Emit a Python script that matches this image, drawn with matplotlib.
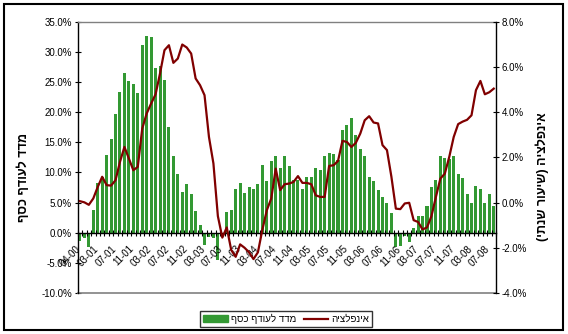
import numpy as np
import matplotlib
matplotlib.use("Agg")
import matplotlib.pyplot as plt
from matplotlib.patches import Rectangle, Patch
from matplotlib.lines import Line2D

plt.rcParams['font.family'] = ['Liberation Sans', 'DejaVu Sans']

# monthly values, first bar = Dec 2000
money_index = [-1.4, -0.9, -2.3, 3.8, 8.3, 9.2, 12.9, 15.6, 19.7, 23.3,
               26.5, 25.2, 24.6, 23.1, 31.2, 32.7, 32.4, 27.3, 27.7, 25.4,
               17.5, 12.8, 9.7, 6.8, 8.0, 6.5, 3.6, 1.2, -2.0, -0.7,
               -0.8, -4.5, 0.0, 3.4, 3.8, 7.2, 8.2, 6.6, 7.6, 7.2,
               8.1, 11.2, 8.6, 11.9, 12.7, 10.7, 12.8, 11.0, 8.7, 8.7,
               7.2, 9.2, 9.2, 10.7, 10.4, 12.8, 13.2, 13.0, 12.0, 17.0,
               17.8, 19.1, 16.2, 13.9, 12.7, 9.3, 8.6, 7.1, 6.0, 4.9,
               3.3, -2.3, -2.2, -0.5, -1.6, 0.7, 2.8, 2.7, 4.5, 7.5,
               8.8, 12.8, 12.4, 12.2, 12.8, 9.7, 9.0, 6.5, 4.9, 7.8,
               7.3, 5.0, 6.5, 4.5]

inflation = [0.06, 0.01, -0.10, 0.18, 0.69, 1.14, 0.77, 0.75, 0.99, 1.8,
             2.46, 1.95, 1.43, 1.58, 3.27, 3.94, 4.38, 4.79, 5.71, 6.74,
             6.96, 6.18, 6.37, 6.99, 6.86, 6.59, 5.49, 5.19, 4.75, 2.9,
             1.73, -0.6, -1.55, -1.1, -2.1, -2.4, -1.85, -2.0, -2.2, -2.5,
             -2.2, -1.2, -0.34, 0.18, 1.5, 0.55, 0.81, 0.84, 0.91, 1.17,
             0.87, 0.87, 0.81, 0.32, 0.25, 0.25, 1.62, 1.65, 1.84, 2.73,
             2.68, 2.46, 2.64, 3.05, 3.64, 3.82, 3.54, 3.50, 2.54, 2.32,
             1.14, -0.27, -0.29, -0.04, -0.01, -0.78, -0.86, -1.19, -1.1, -0.6,
             0.25, 1.06, 1.28, 2.02, 2.9, 3.47, 3.58, 3.66, 3.86, 4.97,
             5.38, 4.79, 4.88, 5.04]

month_labels = ["04-00", "03-01", "07-01", "11-01", "03-02", "07-02", "11-02",
                "03-03", "07-03", "11-03", "03-04", "07-04", "11-04", "03-05",
                "07-05", "11-05", "03-06", "07-06", "11-06", "03-07", "07-07",
                "11-07", "03-08", "07-08"]

bar_name = "מדד לעודף כסף"
line_name = "אינפלציה"
right_title = "אינפלציה (שיעור שנתי)"


def rtl(s):
	# matplotlib has no bidi, so flip Hebrew into visual order
	return s[::-1].replace("(", "\0").replace(")", "(").replace("\0", ")")


n = len(money_index)
x = np.arange(n)

fig = plt.figure(figsize=(5.68, 3.34), dpi=100)
ax = fig.add_axes([0.1368, 0.1228, 0.7364, 0.8122])
ax2 = ax.twinx()

ax.bar(x, money_index, width=0.68, color="#339933")
ax2.plot(x, inflation, color="#800000", lw=1.6)

ax.set_xlim(-0.5, n - 0.5)
ax.set_ylim(-10, 35)
ax2.set_ylim(-4, 8)

ax.set_yticks(np.arange(-10, 36, 5))
ax.set_yticklabels([f"{v:.1f}%" for v in np.arange(-10, 36, 5)], fontsize=7)
ax2.set_yticks(np.arange(-4, 9, 2))
ax2.set_yticklabels([f"{v:.1f}%" for v in np.arange(-4, 9, 2)], fontsize=7)
ax.tick_params(axis="y", direction="inout", length=4, width=0.8, pad=2)
ax2.tick_params(axis="y", direction="inout", length=4, width=0.8, pad=2)

# category axis sits on the zero line
ax.spines["bottom"].set_position(("data", 0))
ax.set_xticks(np.arange(-0.5, n, 1))
ax.set_xticklabels([])
ax.tick_params(axis="x", direction="inout", length=5, width=0.8)
for k, lbl in enumerate(month_labels):
	ax.annotate(lbl, xy=(-1 + 4 * k, 0), xytext=(0, -8), textcoords="offset points",
				rotation=45, ha="right", va="top", rotation_mode="anchor",
				fontsize=7, annotation_clip=False)

for a in (ax, ax2):
	for s in a.spines.values():
		s.set_linewidth(1)
ax.spines["top"].set_color("#808080")
ax.spines["right"].set_visible(False)
ax2.spines["top"].set_visible(False)
ax2.spines["left"].set_visible(False)
ax2.spines["bottom"].set_visible(False)
ax.axhline(-10, color="#808080", lw=1.2, clip_on=False)

fig.text(0.042, 0.47, rtl(bar_name), rotation=90, fontsize=9, fontweight="bold",
		 ha="center", va="center")
fig.text(0.955, 0.47, rtl(right_title), rotation=90, fontsize=9, fontweight="bold",
		 ha="center", va="center")

handles = [Patch(color="#339933"), Line2D([], [], color="#800000", lw=1.6)]
leg = fig.legend(handles, [rtl(bar_name), rtl(line_name)], ncol=2, loc="center",
				 bbox_to_anchor=(0.5035, 0.045), fontsize=7, frameon=True,
				 fancybox=False, edgecolor="black", handlelength=2.5,
				 handletextpad=0.3, columnspacing=0.8, borderpad=0.3)
leg.get_frame().set_linewidth(1)

fig.patches.append(Rectangle((0.007, 0.012), 0.984, 0.976, transform=fig.transFigure,
							 fill=False, edgecolor="black", lw=1.5))

fig.savefig("out.png", dpi=100)
